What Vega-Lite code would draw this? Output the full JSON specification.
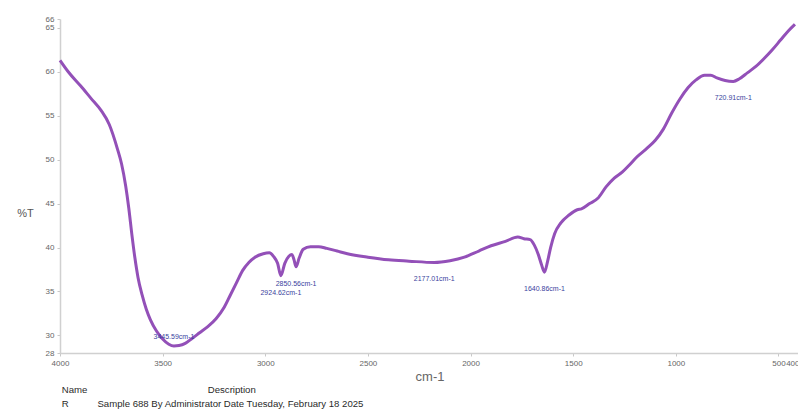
{
  "$schema": "https://vega.github.io/schema/vega-lite/v6.json",
  "autosize": {"type": "none"},
  "width": 739,
  "height": 334,
  "padding": {"left": 60, "top": 19, "right": 0, "bottom": 59},
  "background": "white",
  "config": {
    "view": {"stroke": null},
    "font": "Liberation Sans"
  },
  "title": {
    "text": "Name\u2003\u2003\u2003\u2003\u2003\u2003\u2003\u2003\u2003\u2003\u2003\u2003\u00a0\u00a0Description",
    "subtitle": "R\u2003\u2003\u2003Sample 688 By Administrator Date Tuesday, February 18 2025",
    "orient": "bottom",
    "anchor": "start",
    "font": "Liberation Sans",
    "subtitleFont": "Liberation Sans",
    "fontSize": 9.6,
    "subtitleFontSize": 9.6,
    "fontWeight": "normal",
    "subtitleFontWeight": "normal",
    "color": "#2a2a2a",
    "subtitleColor": "#2a2a2a",
    "offset": 2,
    "subtitlePadding": 4,
    "dx": 45
  },
  "datasets": {
    "spectrum": [
      {"w": 4000, "t": 61.3}, {"w": 3960, "t": 60.0}, {"w": 3900, "t": 58.4},
      {"w": 3850, "t": 57.0}, {"w": 3800, "t": 55.6}, {"w": 3760, "t": 54.0},
      {"w": 3720, "t": 51.2}, {"w": 3700, "t": 49.5}, {"w": 3680, "t": 47.0},
      {"w": 3665, "t": 44.5}, {"w": 3650, "t": 41.5}, {"w": 3635, "t": 38.8},
      {"w": 3620, "t": 36.6}, {"w": 3600, "t": 34.6}, {"w": 3580, "t": 33.0},
      {"w": 3560, "t": 31.8}, {"w": 3530, "t": 30.5}, {"w": 3500, "t": 29.6},
      {"w": 3470, "t": 29.0}, {"w": 3445, "t": 28.8}, {"w": 3420, "t": 28.85},
      {"w": 3390, "t": 29.1}, {"w": 3360, "t": 29.6}, {"w": 3320, "t": 30.3},
      {"w": 3280, "t": 31.0}, {"w": 3240, "t": 31.9}, {"w": 3200, "t": 33.2},
      {"w": 3170, "t": 34.6}, {"w": 3140, "t": 36.0}, {"w": 3110, "t": 37.4},
      {"w": 3080, "t": 38.3}, {"w": 3050, "t": 38.9}, {"w": 3010, "t": 39.3},
      {"w": 2980, "t": 39.4}, {"w": 2960, "t": 39.0}, {"w": 2940, "t": 38.2},
      {"w": 2924, "t": 36.8}, {"w": 2905, "t": 38.2}, {"w": 2885, "t": 39.0},
      {"w": 2870, "t": 39.2}, {"w": 2860, "t": 38.6}, {"w": 2850, "t": 37.8},
      {"w": 2835, "t": 38.8}, {"w": 2815, "t": 39.8}, {"w": 2780, "t": 40.1},
      {"w": 2740, "t": 40.1}, {"w": 2700, "t": 39.9}, {"w": 2650, "t": 39.6},
      {"w": 2600, "t": 39.3}, {"w": 2500, "t": 38.9}, {"w": 2400, "t": 38.6},
      {"w": 2300, "t": 38.45}, {"w": 2177, "t": 38.3}, {"w": 2100, "t": 38.5},
      {"w": 2030, "t": 38.9}, {"w": 1960, "t": 39.6}, {"w": 1900, "t": 40.2},
      {"w": 1830, "t": 40.7}, {"w": 1770, "t": 41.2}, {"w": 1740, "t": 41.0},
      {"w": 1710, "t": 40.9}, {"w": 1690, "t": 40.3}, {"w": 1670, "t": 39.2},
      {"w": 1655, "t": 38.1}, {"w": 1640, "t": 37.2}, {"w": 1625, "t": 38.4},
      {"w": 1610, "t": 40.0}, {"w": 1590, "t": 41.6}, {"w": 1560, "t": 42.8},
      {"w": 1520, "t": 43.7}, {"w": 1480, "t": 44.3}, {"w": 1460, "t": 44.4},
      {"w": 1420, "t": 45.0}, {"w": 1380, "t": 45.6}, {"w": 1340, "t": 46.9},
      {"w": 1300, "t": 47.9}, {"w": 1260, "t": 48.6}, {"w": 1230, "t": 49.3},
      {"w": 1190, "t": 50.3}, {"w": 1140, "t": 51.3}, {"w": 1100, "t": 52.2},
      {"w": 1060, "t": 53.5}, {"w": 1020, "t": 55.3}, {"w": 980, "t": 56.9},
      {"w": 940, "t": 58.2}, {"w": 900, "t": 59.1}, {"w": 860, "t": 59.6},
      {"w": 830, "t": 59.6}, {"w": 800, "t": 59.3}, {"w": 760, "t": 59.0},
      {"w": 720, "t": 58.9}, {"w": 690, "t": 59.2}, {"w": 650, "t": 59.9},
      {"w": 610, "t": 60.6}, {"w": 570, "t": 61.5}, {"w": 530, "t": 62.5},
      {"w": 490, "t": 63.6}, {"w": 450, "t": 64.7}, {"w": 420, "t": 65.4}
    ],
    "peaks": [
      {"w": 3445, "t": 28.8, "label": "3445.59cm-1", "side": "above"},
      {"w": 2924, "t": 36.8, "label": "2924.62cm-1", "side": "below"},
      {"w": 2850, "t": 37.8, "label": "2850.56cm-1", "side": "below"},
      {"w": 2177, "t": 38.3, "label": "2177.01cm-1", "side": "below"},
      {"w": 1640, "t": 37.2, "label": "1640.86cm-1", "side": "below"},
      {"w": 720, "t": 58.9, "label": "720.91cm-1", "side": "below"}
    ]
  },
  "encoding": {
    "x": {
      "field": "w",
      "type": "quantitative",
      "scale": {"domain": [400, 4000], "reverse": true, "nice": false, "zero": false},
      "axis": {
        "title": "cm-1",
        "values": [4000, 3500, 3000, 2500, 2000, 1500, 1000, 500, 400],
        "format": "d",
        "grid": false,
        "domainColor": "#d0d0d0",
        "domainWidth": 1.5,
        "tickColor": "#c8c8c8",
        "tickSize": 3,
        "labelFontSize": 8,
        "labelColor": "#666666",
        "labelPadding": 3,
        "labelFlush": false,
        "labelOverlap": false,
        "labelAlign": {"condition": {"test": "datum.value == 400", "value": "right"}, "value": "center"},
        "titleFontSize": 13,
        "titleFontWeight": "normal",
        "titleColor": "#666666",
        "titlePadding": 3
      }
    },
    "y": {
      "field": "t",
      "type": "quantitative",
      "scale": {"domain": [28, 66], "nice": false, "zero": false},
      "axis": {
        "title": "%T",
        "values": [28, 30, 35, 40, 45, 50, 55, 60, 65, 66],
        "grid": false,
        "domainColor": "#d0d0d0",
        "domainWidth": 1.5,
        "tickColor": "#c8c8c8",
        "tickSize": 3,
        "labelFontSize": 8,
        "labelColor": "#666666",
        "labelPadding": 3,
        "labelOverlap": false,
        "labelFlush": false,
        "titleAngle": 0,
        "titleAlign": "center",
        "titleBaseline": "middle",
        "titleX": -35,
        "titleY": 194,
        "titleFontSize": 11,
        "titleFontWeight": "normal",
        "titleColor": "#555555"
      }
    }
  },
  "layer": [
    {
      "data": {"name": "spectrum"},
      "mark": {"type": "line", "color": "#9350b8", "strokeWidth": 3, "interpolate": "monotone"}
    },
    {
      "data": {"name": "peaks"},
      "transform": [{"filter": "datum.side === 'above'"}],
      "mark": {"type": "text", "fontSize": 7, "color": "#3a3f9e", "dy": -9, "baseline": "middle", "align": "center"},
      "encoding": {"text": {"field": "label"}}
    },
    {
      "data": {"name": "peaks"},
      "transform": [{"filter": "datum.side === 'below'"}],
      "mark": {"type": "text", "fontSize": 7, "color": "#3a3f9e", "dy": 17, "baseline": "middle", "align": "center"},
      "encoding": {"text": {"field": "label"}}
    }
  ]
}
